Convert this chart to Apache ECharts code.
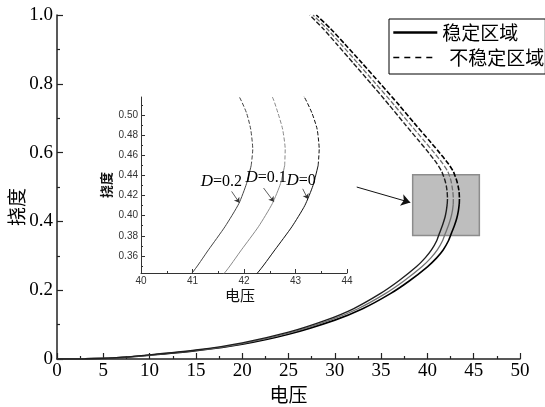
<!DOCTYPE html>
<html>
<head>
<meta charset="utf-8">
<script src="https://cdn.jsdelivr.net/npm/echarts@6/dist/echarts.min.js"></script>
<style>
  html, body { margin: 0; padding: 0; background: #fff; }
  #chart { width: 545px; height: 407px; }
</style>
</head>
<body>
<div id="chart"></div>
<script>
// Voltage (电压) vs. deflection (挠度) for three damage levels D.
// Each curve is split into a stable (solid) lower branch and an unstable (dashed) upper branch.
const stableD0 = [[0,0],[3,0.0008],[6,0.003],[10,0.011],[15,0.024],[20,0.043],[25,0.072],[30,0.113],[33,0.146],[36,0.19],[38,0.226],[40,0.268],[41,0.294],[41.7,0.317],[42.26,0.343],[42.6,0.366],[42.93,0.389],[43.18,0.41],[43.34,0.43],[43.44,0.45]];
const unstableD0 = [[43.44,0.45],[43.46,0.466],[43.42,0.486],[43.32,0.502],[43.17,0.518],[42.8,0.545],[42.2,0.57],[41.15,0.605],[40.2,0.635],[38.6,0.685],[36.95,0.738],[34.9,0.801],[32.95,0.86],[31.1,0.915],[29.55,0.96],[28.0,1.0]];

const stableD01 = [[0,0],[3,0.0008],[6,0.003],[10,0.0115],[15,0.025],[20,0.045],[25,0.075],[29.5,0.113],[32.5,0.146],[35.45,0.19],[37.42,0.226],[39.4,0.268],[40.38,0.294],[41.07,0.317],[41.62,0.343],[41.95,0.366],[42.28,0.389],[42.55,0.412],[42.71,0.432],[42.79,0.45]];
const unstableD01 = [[42.79,0.45],[42.8,0.466],[42.75,0.486],[42.66,0.502],[42.55,0.518],[42.2,0.545],[41.6,0.57],[40.57,0.605],[39.63,0.635],[38.05,0.685],[36.42,0.738],[34.4,0.801],[32.48,0.86],[30.67,0.915],[29.15,0.96],[27.65,1.0]];

const stableD02 = [[0,0],[3,0.0008],[6,0.0032],[10,0.012],[15,0.026],[20,0.047],[25,0.078],[29.05,0.113],[32.0,0.146],[34.9,0.19],[36.85,0.226],[38.8,0.268],[39.76,0.294],[40.44,0.317],[40.99,0.343],[41.31,0.366],[41.63,0.389],[41.9,0.412],[42.05,0.432],[42.14,0.45]];
const unstableD02 = [[42.14,0.45],[42.17,0.466],[42.13,0.486],[42.05,0.502],[41.91,0.518],[41.55,0.545],[40.98,0.57],[39.98,0.605],[39.05,0.635],[37.5,0.685],[35.88,0.738],[33.9,0.801],[32.0,0.86],[30.22,0.915],[28.75,0.96],[27.3,1.0]];

const legendNames = ['稳定区域', '不稳定区域'];
const curveLabels = ['D=0', 'D=0.1', 'D=0.2'];

// tick labels
const xTicks = ['0','5','10','15','20','25','30','35','40','45','50'];
const yTicks = ['0','0.2','0.4','0.6','0.8','1.0'];
const insetXTicks = ['40','41','42','43','44'];
const insetYTicks = ['0.36','0.38','0.40','0.42','0.44','0.46','0.48','0.50'];
const insetYMinor = ['0.35','0.37','0.39','0.41','0.43','0.45','0.47','0.49','0.51'];

const SERIF = 'Liberation Serif';
const SANS = 'Liberation Sans';
const CJK = 'Noto Sans CJK SC';

const curves = [
  { label: curveLabels[0], stable: stableD0,  unstable: unstableD0,  color: '#000000', width: 1.6, insetColor: '#111111' },
  { label: curveLabels[1], stable: stableD01, unstable: unstableD01, color: '#707070', width: 1.3, insetColor: '#8a8a8a' },
  { label: curveLabels[2], stable: stableD02, unstable: unstableD02, color: '#1e1e1e', width: 1.4, insetColor: '#444444' }
];

function lineSeries(name, data, color, width, dash, xi, yi, z) {
  return {
    type: 'line', name: name, data: data,
    xAxisIndex: xi, yAxisIndex: yi,
    showSymbol: false, symbol: 'none', smooth: 0.2,
    clip: true, silent: true, z: z,
    lineStyle: { color: color, width: width, type: dash }
  };
}

const series = [];
// main plot curves
curves.forEach(c => {
  series.push(lineSeries(legendNames[0], c.stable, c.color, c.width, 'solid', 0, 0, 3));
  series.push(lineSeries(legendNames[1], c.unstable, c.color, c.width, [5, 2], 0, 0, 3));
});
// inset curves (same data, zoomed axes)
curves.forEach(c => {
  series.push(lineSeries(legendNames[0], c.stable, c.insetColor, 1, 'solid', 1, 1, 3));
  series.push(lineSeries(legendNames[1], c.unstable, c.insetColor, 1, [4, 2], 1, 1, 3));
});

// zoom box and pointer arrow on the main plot
series.push({
  type: 'line', name: 'zoom-box', data: [], xAxisIndex: 0, yAxisIndex: 0, z: 1, silent: true,
  markArea: {
    silent: true,
    itemStyle: { color: '#bebebe', borderColor: '#8c8c8c', borderWidth: 1.5 },
    data: [[{ coord: [38.41, 0.5356] }, { coord: [45.61, 0.359] }]]
  },
  markLine: {
    silent: true, symbol: ['none', 'arrow'], symbolSize: 9,
    label: { show: false },
    lineStyle: { color: '#111', width: 1, type: 'solid' },
    data: [[{ coord: [32.37, 0.4999] }, { coord: [38.15, 0.455] }]]
  }
});

// labels and small arrows in the inset
const rich = { i: { fontFamily: SERIF, fontStyle: 'italic', fontSize: 17, color: '#000' }, n: { fontFamily: SERIF, fontSize: 16, color: '#000' } };
function dLabel(text) { return '{i|D}{n|' + text.slice(1) + '}'; }
series.push({
  type: 'line', name: 'inset-notes', data: [], xAxisIndex: 1, yAxisIndex: 1, z: 4, silent: true,
  markLine: {
    silent: true, symbol: ['none', 'arrow'], symbolSize: 5,
    label: { show: false },
    lineStyle: { color: '#333', width: 0.8, type: 'solid' },
    data: [
      [{ coord: [41.76, 0.4241] }, { coord: [41.91, 0.4128] }],
      [{ coord: [42.38, 0.4275] }, { coord: [42.58, 0.4138] }],
      [{ coord: [43.14, 0.4267] }, { coord: [43.24, 0.4165] }]
    ]
  },
  markPoint: {
    silent: true, symbol: 'circle', symbolSize: 0,
    label: { show: true, position: 'inside', rich: rich },
    data: [
      { coord: [41.56, 0.434], label: { formatter: dLabel(curveLabels[2]) } },
      { coord: [42.43, 0.438], label: { formatter: dLabel(curveLabels[1]) } },
      { coord: [43.11, 0.435], label: { formatter: dLabel(curveLabels[0]) } }
    ]
  }
});

const axisColor = '#222';
const option = {
  animation: false,
  backgroundColor: '#fff',
  legend: {
    orient: 'vertical', left: 389, top: 19,
    itemWidth: 44, itemHeight: 14, itemGap: 6,
    padding: [4, 1, 7, 3],
    borderColor: '#000', borderWidth: 1, borderRadius: 0,
    selectedMode: false,
    textStyle: { fontFamily: CJK, fontSize: 19, lineHeight: 19, color: '#000' },
    data: [
      { name: legendNames[0], itemStyle: { opacity: 0 }, lineStyle: { color: '#000', width: 2.6, type: 'solid' } },
      { name: legendNames[1], itemStyle: { opacity: 0 }, lineStyle: { color: '#000', width: 1.5, type: [6, 5] }, textStyle: { padding: [0, 0, 0, 7] } }
    ]
  },
  grid: [
    { left: 57, right: 25, top: 15, bottom: 48, outerBoundsMode: 'none', containLabel: false },
    { left: 141, right: 198, top: 97, bottom: 134, outerBoundsMode: 'none', containLabel: false }
  ],
  xAxis: [
    {
      type: 'value', gridIndex: 0, min: 0, max: 50, interval: 5,
      name: '电压', nameLocation: 'middle', nameGap: 26, nameMoveOverlap: false,
      nameTextStyle: { fontFamily: CJK, fontSize: 19, color: '#000' },
      axisLine: { show: true, onZero: false, lineStyle: { color: axisColor, width: 1.5 } },
      axisTick: { show: true, inside: true, length: 6, lineStyle: { color: axisColor, width: 1.2 } },
      minorTick: { show: true, splitNumber: 2, length: 3, lineStyle: { color: axisColor, width: 1.2 } },
      splitLine: { show: false }, minorSplitLine: { show: false },
      axisLabel: { fontFamily: SERIF, fontSize: 19, color: '#000', margin: 3,
        formatter: v => xTicks[Math.round(v / 5)] }
    },
    {
      type: 'value', gridIndex: 1, min: 40, max: 44, interval: 1,
      name: '电压', nameLocation: 'middle', nameGap: 15, nameMoveOverlap: false,
      nameTextStyle: { fontFamily: CJK, fontSize: 15, color: '#111', padding: [0, 8, 0, 0] },
      axisLine: { show: true, onZero: false, lineStyle: { color: '#333', width: 1 } },
      axisTick: { show: true, inside: true, length: 4, lineStyle: { color: '#333', width: 1 } },
      minorTick: { show: true, splitNumber: 2, length: 2, lineStyle: { color: '#333', width: 1 } },
      splitLine: { show: false }, minorSplitLine: { show: false },
      axisLabel: { fontFamily: SANS, fontSize: 10, color: '#333', margin: 3,
        formatter: v => insetXTicks[Math.round(v - 40)] }
    }
  ],
  yAxis: [
    {
      type: 'value', gridIndex: 0, min: 0, max: 1, interval: 0.2,
      name: '挠度', nameLocation: 'middle', nameGap: 31, nameRotate: 90, nameMoveOverlap: false,
      nameTextStyle: { fontFamily: CJK, fontSize: 19, color: '#000', padding: [0, 40, 0, 0] },
      axisLine: { show: true, onZero: false, lineStyle: { color: axisColor, width: 1.5 } },
      axisTick: { show: true, inside: true, length: 6, lineStyle: { color: axisColor, width: 1.2 } },
      minorTick: { show: true, splitNumber: 2, length: 3, lineStyle: { color: axisColor, width: 1.2 } },
      splitLine: { show: false }, minorSplitLine: { show: false },
      axisLabel: { fontFamily: SERIF, fontSize: 19, color: '#000', margin: 4,
        formatter: v => yTicks[Math.round(v / 0.2)] }
    },
    {
      type: 'value', gridIndex: 1, min: 0.343, max: 0.518, position: 'left',
      name: '挠度', nameLocation: 'middle', nameGap: 28, nameRotate: 90, nameMoveOverlap: false,
      nameTextStyle: { fontFamily: CJK, fontSize: 13, fontWeight: 'bold', color: '#111' },
      axisLine: { show: true, onZero: false, lineStyle: { color: '#333', width: 1 } },
      axisTick: { show: true, inside: true, length: 4, lineStyle: { color: '#333', width: 1 },
        customValues: insetYTicks.map(Number) },
      splitLine: { show: false },
      axisLabel: { fontFamily: SANS, fontSize: 10, color: '#333', margin: 3,
        customValues: insetYTicks.map(Number),
        formatter: v => insetYTicks[Math.round((v - 0.36) / 0.02)] }
    },
    {
      type: 'value', gridIndex: 1, min: 0.343, max: 0.518, position: 'left', offset: 0,
      axisLine: { show: false },
      axisTick: { show: true, inside: true, length: 2, lineStyle: { color: '#333', width: 1 },
        customValues: insetYMinor.map(Number) },
      axisLabel: { show: false, customValues: insetYMinor.map(Number) },
      splitLine: { show: false }
    }
  ],
  series: series
};

const chart = echarts.init(document.getElementById('chart'), null, { renderer: 'canvas' });
chart.setOption(option);
</script>
</body>
</html>
